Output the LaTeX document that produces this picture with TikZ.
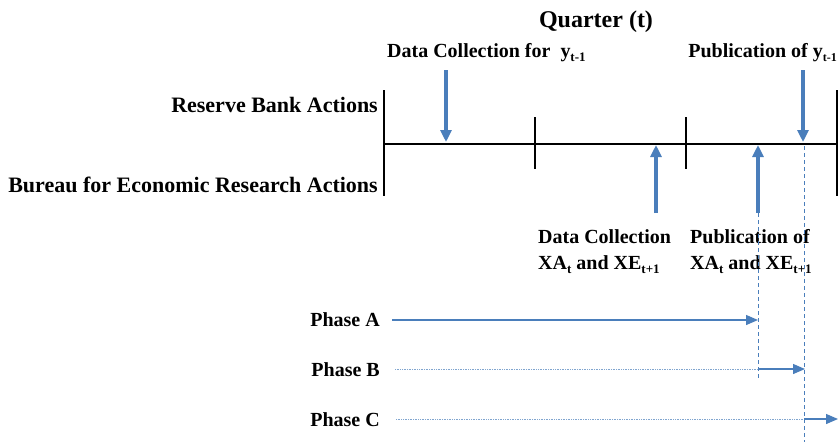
\documentclass[tikz,border=0pt]{standalone}
\usepackage{fontspec}
\setmainfont{Liberation Serif}
\usetikzlibrary{arrows.meta}
\definecolor{ablue}{HTML}{4A7EBB}
\newcommand{\lowsub}[1]{\raisebox{-0.22em}{\fontsize{13}{13}\selectfont #1}}
\newcommand{\tightsub}[1]{\raisebox{-0.22em}{\fontsize{12}{12}\selectfont #1}}
\tikzset{
  lbl/.style={font=\bfseries\fontsize{20}{22}\selectfont, inner sep=0pt},
  titlelbl/.style={font=\bfseries\fontsize{24}{26}\selectfont, inner sep=0pt, anchor=base},
  side/.style={font=\bfseries\fontsize{22}{24}\selectfont, inner sep=0pt, anchor=base east},
  bigarrow/.style={draw=ablue, line width=3.5pt, -{Triangle[width=11pt,length=12pt]}},
  phasearrow/.style={draw=ablue, line width=1.3pt, -{Triangle[width=10pt,length=12pt]}},
  guide/.style={draw=ablue, line width=0.9pt, dash pattern=on 4pt off 3pt},
  dots/.style={draw=ablue!70, line width=0.6pt, dash pattern=on 1pt off 0.7pt},
  axis/.style={draw=black, line width=1.1pt},
}
\begin{document}
\begin{tikzpicture}[x=1pt,y=-1pt]
\useasboundingbox (0,0) rectangle (838,445);

% axis and ticks
\coordinate (aL) at (384,144);
\coordinate (aR) at (838,144);
\draw[axis] (aL) -- (aR);
\coordinate (t0a) at (384,90);  \coordinate (t0b) at (384,196);
\coordinate (t1a) at (535,117); \coordinate (t1b) at (535,169);
\coordinate (t2a) at (686,117); \coordinate (t2b) at (686,169);
\coordinate (t3a) at (837,90);  \coordinate (t3b) at (837,196);
\draw[axis] (t0a) -- (t0b);
\draw[axis] (t1a) -- (t1b);
\draw[axis] (t2a) -- (t2b);
\draw[axis] (t3a) -- (t3b);

% texts
\node[titlelbl] (q) at (596,27) {Quarter (t)};
\node[lbl, anchor=base west] (dcy) at (387,57) {Data Collection for\ \ y\lowsub{t-1}};
\node[lbl, anchor=base east] (puby) at (837,57) {Publication of y\tightsub{t-1}};
\node[side] (rb) at (378,112) {Reserve Bank Actions};
\node[side] (ber) at (378,192) {Bureau for Economic Research Actions};
\node[lbl, anchor=base west] (dcx1) at (538,243) {Data Collection};
\node[lbl, anchor=base west] (dcx2) at (538,269) {XA\lowsub{t} and XE\lowsub{t+1}};
\node[lbl, anchor=base west] (pbx1) at (690,243) {Publication of};
\node[lbl, anchor=base west] (pbx2) at (690,269) {XA\lowsub{t} and XE\lowsub{t+1}};
\node[lbl, anchor=base east] (pa) at (380,326) {Phase A};
\node[lbl, anchor=base east] (pb) at (380,376) {Phase B};
\node[lbl, anchor=base east] (pc) at (380,426) {Phase C};

% vertical arrows
\coordinate (d1s) at (446,70);  \coordinate (d1e) at (446,142);
\coordinate (d2s) at (803,70);  \coordinate (d2e) at (803,142);
\coordinate (u1s) at (656,213); \coordinate (u1e) at (656,145);
\coordinate (u2s) at (758,213); \coordinate (u2e) at (758,145);
\draw[bigarrow] (d1s) -- (d1e);
\draw[bigarrow] (d2s) -- (d2e);
\draw[bigarrow] (u1s) -- (u1e);
\draw[bigarrow] (u2s) -- (u2e);

% guides
\coordinate (g1a) at (758,213); \coordinate (g1b) at (758,379);
\coordinate (g2a) at (804,146); \coordinate (g2b) at (804,442);
\draw[guide] (g1a) -- (g1b);
\draw[guide] (g2a) -- (g2b);

% phases
\coordinate (pas) at (392,320); \coordinate (pae) at (758,320);
\draw[phasearrow] (pas) -- (pae);
\coordinate (pbs) at (395,369); \coordinate (pbm) at (758,369); \coordinate (pbe) at (805,369);
\draw[dots] (pbs) -- (pbm);
\draw[phasearrow] (pbm) -- (pbe);
\coordinate (pcs) at (396,419); \coordinate (pcm) at (804,419); \coordinate (pce) at (838,419);
\draw[dots] (pcs) -- (pcm);
\draw[phasearrow] (pcm) -- (pce);
\end{tikzpicture}
\end{document}
